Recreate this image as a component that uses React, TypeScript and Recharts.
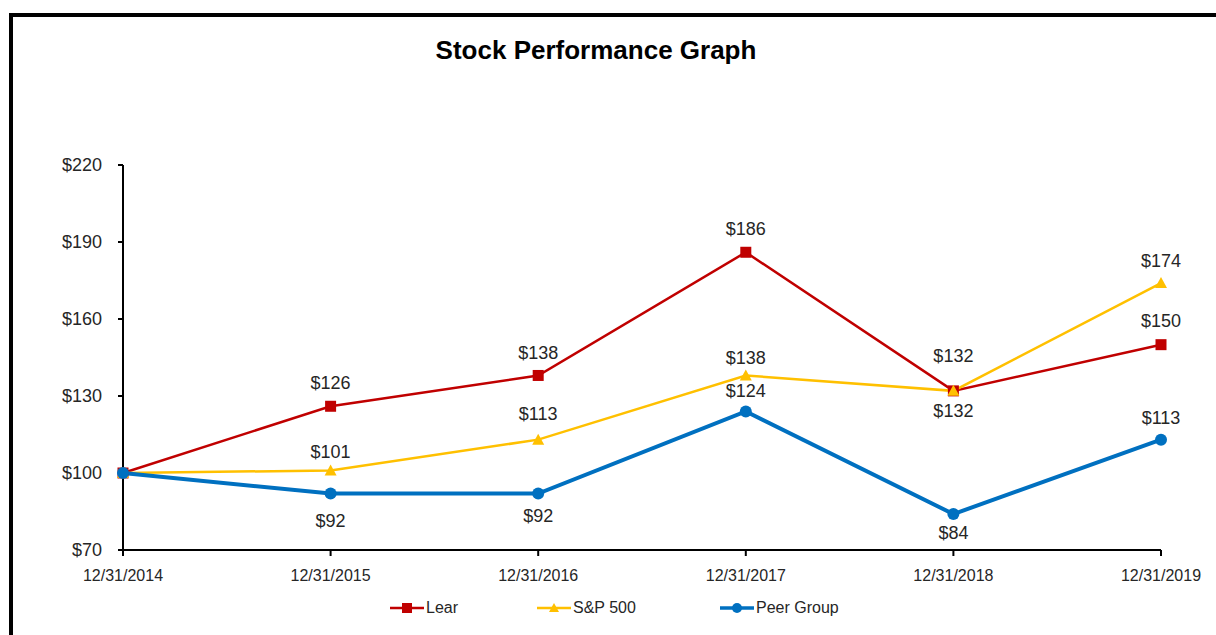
import React from 'react';
import { LineChart, Line, XAxis, YAxis, LabelList } from 'recharts';

const dates = ['12/31/2014', '12/31/2015', '12/31/2016', '12/31/2017', '12/31/2018', '12/31/2019'];
const lear = [100, 126, 138, 186, 132, 150];
const sp500 = [100, 101, 113, 138, 132, 174];
const peerGroup = [100, 92, 92, 124, 84, 113];
const yTicks = [70, 100, 130, 160, 190, 220];

// vertical offset of each data label from its point (null = no label)
const learLabelDy = [null, -24, -23, -24, -35, -24];
const spLabelDy = [null, -19, -26, -18, 20, -23];
const peerLabelDy = [null, 27, 22, -21, 18, -22];

const data = dates.map((date, i) => ({
  date,
  lear: lear[i],
  sp: sp500[i],
  peer: peerGroup[i],
}));

const FONT = '"Liberation Sans", Arial, sans-serif';
const TEXT = '#262626';
const RED = '#C00000';
const YELLOW = '#FFC000';
const BLUE = '#0070C0';

const W = 1216;
const H = 635;

const makeLabel = (offsets: (number | null)[]) => (props: any) => {
  const { x, y, value, index } = props;
  const dy = offsets[index];
  if (dy === null || dy === undefined) return null;
  return (
    <text
      x={x}
      y={y + dy}
      dy="0.36em"
      textAnchor="middle"
      fontSize={18}
      fontFamily={FONT}
      fill={TEXT}
    >
      ${value}
    </text>
  );
};

const SquareDot = (props: any) => {
  const { cx, cy } = props;
  return <rect x={cx - 5.5} y={cy - 5.5} width={11} height={11} fill={RED} />;
};

const TriangleDot = (props: any) => {
  const { cx, cy } = props;
  return (
    <polygon
      points={`${cx},${cy - 6} ${cx + 6},${cy + 5} ${cx - 6},${cy + 5}`}
      fill={YELLOW}
    />
  );
};

const CircleDot = (props: any) => {
  const { cx, cy } = props;
  return <circle cx={cx} cy={cy} r={6} fill={BLUE} />;
};

const legendItems = [
  { name: 'Lear', color: RED, width: 2.5, shape: 'square', left: 390 },
  { name: 'S&P 500', color: YELLOW, width: 2.5, shape: 'triangle', left: 537 },
  { name: 'Peer Group', color: BLUE, width: 3.5, shape: 'circle', left: 720 },
];

const LegendIcon = ({ color, width, shape }: { color: string; width: number; shape: string }) => (
  <svg width={34} height={14} style={{ display: 'block' }}>
    <line x1={0} y1={7} x2={34} y2={7} stroke={color} strokeWidth={width} />
    {shape === 'square' && <rect x={12} y={2} width={10} height={10} fill={color} />}
    {shape === 'triangle' && <polygon points="17,2 22,11 12,11" fill={color} />}
    {shape === 'circle' && <circle cx={17} cy={7} r={5} fill={color} />}
  </svg>
);

export default function App() {
  return (
    <div
      style={{
        position: 'fixed',
        left: 0,
        top: 0,
        width: W,
        height: H,
        overflow: 'hidden',
        background: '#fff',
        fontFamily: FONT,
      }}
    >
      <div
        style={{
          position: 'absolute',
          left: 9,
          top: 13,
          width: W + 100,
          height: H + 100,
          border: '4px solid #000',
        }}
      />
      <div
        style={{
          position: 'absolute',
          left: 0,
          top: 35,
          width: 1192,
          textAlign: 'center',
          fontSize: 26,
          fontWeight: 'bold',
          color: '#000',
          lineHeight: '30px',
        }}
      >
        Stock Performance Graph
      </div>
      <div style={{ position: 'absolute', left: 0, top: 0 }}>
        <LineChart width={W} height={H} data={data} margin={{ top: 165, right: 55, bottom: 55, left: 0 }}>
          <XAxis
            dataKey="date"
            interval={0}
            height={30}
            axisLine={{ stroke: '#000', strokeWidth: 2 }}
            tickLine={{ stroke: '#000', strokeWidth: 2 }}
            tickSize={6}
            tickMargin={14}
            tick={{ fontSize: 16, fill: TEXT, fontFamily: FONT }}
          />
          <YAxis
            domain={[70, 220]}
            ticks={yTicks}
            width={123}
            interval={0}
            axisLine={{ stroke: '#000', strokeWidth: 2 }}
            tickLine={{ stroke: '#000', strokeWidth: 2 }}
            tickSize={5}
            tickMargin={16}
            tick={{ fontSize: 18, fill: TEXT, fontFamily: FONT }}
            tickFormatter={(v: number) => `$${v}`}
          />
          <Line
            type="linear"
            dataKey="lear"
            stroke={RED}
            strokeWidth={2.5}
            dot={<SquareDot />}
            activeDot={false}
            isAnimationActive={false}
          >
            <LabelList dataKey="lear" content={makeLabel(learLabelDy)} />
          </Line>
          <Line
            type="linear"
            dataKey="sp"
            stroke={YELLOW}
            strokeWidth={2.5}
            dot={<TriangleDot />}
            activeDot={false}
            isAnimationActive={false}
          >
            <LabelList dataKey="sp" content={makeLabel(spLabelDy)} />
          </Line>
          <Line
            type="linear"
            dataKey="peer"
            stroke={BLUE}
            strokeWidth={4}
            dot={<CircleDot />}
            activeDot={false}
            isAnimationActive={false}
          >
            <LabelList dataKey="peer" content={makeLabel(peerLabelDy)} />
          </Line>
        </LineChart>
      </div>
      {legendItems.map((item) => (
        <div
          key={item.name}
          style={{
            position: 'absolute',
            left: item.left,
            top: 599,
            display: 'flex',
            alignItems: 'center',
            gap: 2,
            fontSize: 16,
            color: TEXT,
            lineHeight: '18px',
          }}
        >
          <LegendIcon color={item.color} width={item.width} shape={item.shape} />
          <span>{item.name}</span>
        </div>
      ))}
    </div>
  );
}
